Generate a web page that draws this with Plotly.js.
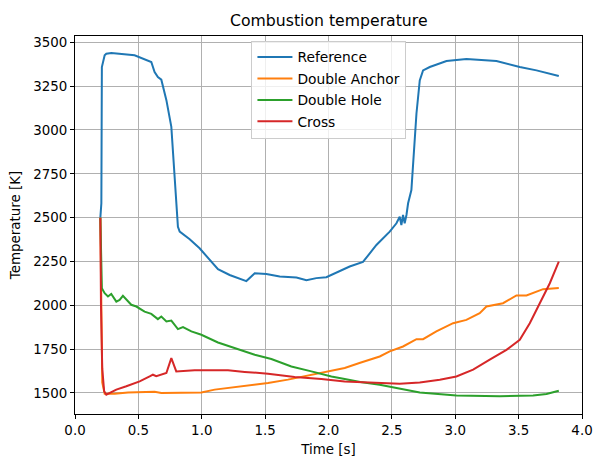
<!DOCTYPE html>
<html>
<head>
<meta charset="utf-8">
<script src="https://cdn.plot.ly/plotly-3.0.1.min.js"></script>
<style>html,body{margin:0;padding:0;background:#fff;}#chart{width:595px;height:460px;}</style>
</head>
<body>
<div id="chart"></div>
<script>
// Reference
const refTime = [0.200,0.208,0.212,0.234,0.247,0.287,0.470,0.549,0.602,0.628,0.654,0.681,0.721,0.760,0.786,0.812,0.826,0.905,0.983,1.062,1.128,1.220,1.286,1.352,1.418,1.510,1.615,1.747,1.826,1.904,1.983,2.062,2.167,2.272,2.378,2.483,2.536,2.562,2.575,2.588,2.601,2.615,2.628,2.654,2.667,2.694,2.720,2.746,2.799,2.931,3.088,3.325,3.509,3.641,3.817];
const refTemp = [2500,2582,3359,3426,3435,3439,3426,3401,3388,3331,3302,3287,3170,3018,2752,2448,2420,2377,2325,2259,2206,2173,2155,2138,2183,2179,2164,2158,2143,2155,2160,2187,2221,2247,2344,2420,2468,2505,2458,2515,2468,2515,2582,2657,2809,3094,3283,3340,3359,3393,3405,3393,3359,3340,3308];
// Double Anchor
const anchorTime = [0.200,0.215,0.234,0.313,0.418,0.549,0.628,0.681,0.812,0.997,1.102,1.260,1.391,1.523,1.680,1.838,1.996,2.128,2.250,2.404,2.483,2.588,2.694,2.746,2.851,2.983,3.088,3.193,3.246,3.377,3.483,3.562,3.693,3.817];
const anchorTemp = [2500,1560,1496,1496,1503,1506,1507,1500,1503,1503,1519,1532,1543,1557,1576,1598,1623,1642,1672,1708,1737,1765,1807,1807,1851,1898,1917,1955,1993,2012,2056,2056,2092,2098];
// Double Hole
const holeTime = [0.200,0.212,0.234,0.260,0.286,0.326,0.352,0.378,0.444,0.484,0.549,0.602,0.654,0.681,0.721,0.760,0.812,0.852,0.918,0.997,1.128,1.286,1.418,1.549,1.707,1.865,2.023,2.128,2.250,2.404,2.562,2.720,3.009,3.351,3.614,3.720,3.817];
const holeTemp = [2500,2098,2069,2050,2065,2021,2031,2054,2003,1993,1964,1951,1921,1936,1908,1913,1864,1876,1851,1832,1788,1750,1718,1694,1651,1623,1594,1580,1562,1547,1523,1503,1486,1481,1486,1494,1513];
// Cross
const crossTime = [0.200,0.205,0.215,0.230,0.247,0.326,0.405,0.510,0.589,0.615,0.641,0.721,0.760,0.799,0.944,1.062,1.207,1.339,1.523,1.733,1.944,2.128,2.404,2.562,2.720,2.878,3.009,3.141,3.272,3.404,3.509,3.588,3.667,3.746,3.817];
const crossTemp = [2500,2000,1640,1510,1490,1519,1538,1566,1594,1604,1596,1614,1699,1623,1629,1629,1629,1620,1610,1591,1580,1566,1557,1553,1560,1576,1594,1633,1690,1746,1803,1898,2012,2126,2249];

const seriesNames = ["Reference","Double Anchor","Double Hole","Cross"];
const seriesColors = ["#1f77b4","#ff7f0e","#2ca02c","#d62728"];
const xs = [refTime, anchorTime, holeTime, crossTime];
const ys = [refTemp, anchorTemp, holeTemp, crossTemp];

const font = "DejaVu Sans, sans-serif";
const traces = seriesNames.map((n,i)=>({
  x: xs[i], y: ys[i], name: n, type: "scatter", mode: "lines",
  legendgroup: "g"+i,
  line: {color: seriesColors[i], width: 2}
}));

const axisCommon = {
  showline: true, linecolor: "#000", linewidth: 1, mirror: true,
  ticks: "outside", ticklen: 4, tickwidth: 1, tickcolor: "#000",
  showgrid: true, gridcolor: "#b0b0b0", gridwidth: 1, zeroline: false,
  tickfont: {family: font, size: 13.4, color: "#000"}
};

const layout = {
  width: 595, height: 460,
  margin: {l: 75, r: 13, t: 36, b: 46},
  paper_bgcolor: "#fff", plot_bgcolor: "#fff",
  font: {family: font, size: 13.4, color: "#000"},
  title: {text: "Combustion temperature", font: {family: font, size: 15.7, color: "#000"},
          xref: "container", x: 0.5526, xanchor: "center", yref: "container", y: 0.9565, yanchor: "middle"},
  xaxis: Object.assign({}, axisCommon, {
    range: [0, 4], tick0: 0, dtick: 0.5, tickformat: ".1f",
    title: {text: "Time [s]", font: {family: font, size: 13.4, color: "#000"}, standoff: 7}
  }),
  yaxis: Object.assign({}, axisCommon, {
    range: [1380, 3536], tick0: 1500, dtick: 250,
    title: {text: "Temperature [K]", font: {family: font, size: 13.4, color: "#000"}, standoff: 9}
  }),
  showlegend: true,
  legend: {
    x: 0.348, y: 0.988, xanchor: "left", yanchor: "top",
    bgcolor: "rgba(255,255,255,0.8)", bordercolor: "#cccccc", borderwidth: 1,
    font: {family: font, size: 13.8, color: "#000"},
    itemwidth: 35,
    traceorder: "grouped", tracegroupgap: 0.5
  }
};

Plotly.newPlot("chart", traces, layout, {displayModeBar: false, staticPlot: true});
</script>
</body>
</html>
